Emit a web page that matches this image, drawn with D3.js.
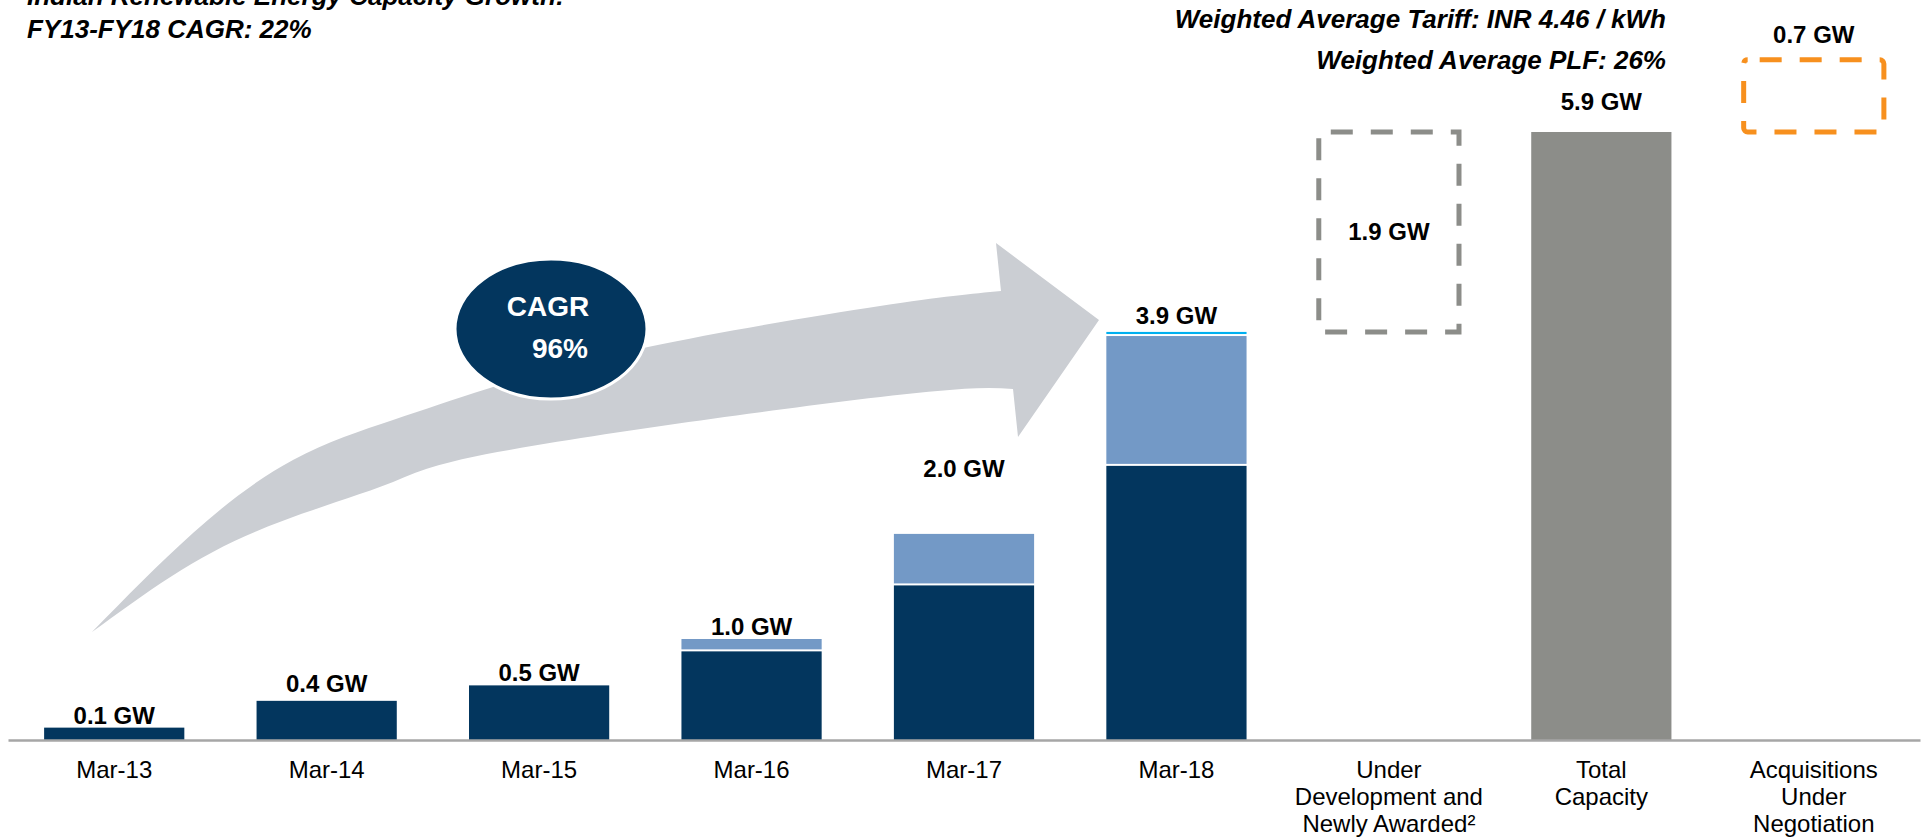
<!DOCTYPE html>
<html>
<head>
<meta charset="utf-8">
<script src="https://cdn.jsdelivr.net/npm/d3@7"></script>
<style>
  body { margin: 0; background: #fff; }
  svg { display: block; font-family: "Liberation Sans", Arial, sans-serif; }
</style>
</head>
<body>
<svg id="chart"></svg>
<script>
// capacity growth chart: stacked history + waterfall pipeline

const width = 1922, height = 840;

const categories = ["Mar-13", "Mar-14", "Mar-15", "Mar-16", "Mar-17", "Mar-18",
  "Under Development and Newly Awarded²", "Total Capacity", "Acquisitions Under Negotiation"];
const categoryLines = [["Mar-13"], ["Mar-14"], ["Mar-15"], ["Mar-16"], ["Mar-17"], ["Mar-18"],
  ["Under", "Development and", "Newly Awarded²"], ["Total", "Capacity"], ["Acquisitions", "Under", "Negotiation"]];

const years = ["Mar-13", "Mar-14", "Mar-15", "Mar-16", "Mar-17", "Mar-18"];
const darkSeries  = [0.12, 0.38, 0.53, 0.86, 1.50, 2.66];
const lightSeries = [0,    0,    0,    0.12, 0.50, 1.26];
const cyanSeries  = [0,    0,    0,    0,    0,    0.04];
const yearLabels  = ["0.1 GW", "0.4 GW", "0.5 GW", "1.0 GW", "2.0 GW", "3.9 GW"];

const underDevelopment = 1.94;
const totalCapacity = 5.9;
const acquisitions = 0.7;
const pipelineLabels = ["1.9 GW", "5.9 GW", "0.7 GW"];

const titleLines = ["Indian Renewable Energy Capacity Growth:", "FY13-FY18 CAGR: 22%"];
const noteLines = ["Weighted Average Tariff: INR 4.46 / kWh", "Weighted Average PLF: 26%"];
const cagrLines = ["CAGR", "96%"];

const colors = { dark: "#03365e", light: "#7399c6", cyan: "#00b0f0" };

const svg = d3.select("#chart").attr("width", width).attr("height", height);

const x = d3.scaleBand()
  .domain(categories)
  .range([8, 1920])
  .paddingInner(0.34)
  .paddingOuter(0.17);

const y = d3.scaleLinear()
  .domain([0, totalCapacity])
  .range([740, 132]);

// growth arrow (decoration)
const upper = [[92, 632], [193, 533], [293, 460], [393, 420], [490, 388], [648, 347], [880, 306], [1001, 291]];
const lower = [[92, 632], [193, 563], [293, 517], [393, 482], [520, 448], [880, 397], [1013, 389]];
const head = [[996, 243], [1099, 320], [1018, 437]];
const curve = d3.line().curve(d3.curveNatural);
// lower edge drawn tail->head, then reversed by sampling the path
const lowerPath = document.createElementNS("http://www.w3.org/2000/svg", "path");
lowerPath.setAttribute("d", curve(lower));
svg.node().appendChild(lowerPath);
const len = lowerPath.getTotalLength();
const lowerBack = d3.range(0, 81).map(k => {
  const p = lowerPath.getPointAtLength(len * (1 - k / 80));
  return [p.x, p.y];
});
lowerPath.remove();
const arrowPath = curve(upper)
  + head.map(p => "L" + p).join("")
  + lowerBack.map(p => "L" + p).join("") + "Z";
svg.append("path").attr("d", arrowPath).attr("fill", "#cbced3");

// stacked history bars
const table = years.map((d, i) => ({ year: d, dark: darkSeries[i], light: lightSeries[i], cyan: cyanSeries[i] }));
const stacked = d3.stack().keys(["dark", "light", "cyan"])(table);

stacked.forEach((layer, li) => {
  svg.append("g").selectAll("rect")
    .data(layer.filter(d => d[1] - d[0] > 0))
    .join("rect")
    .attr("x", d => x(d.data.year))
    .attr("width", x.bandwidth())
    .attr("y", d => y(d[1]))
    .attr("height", d => y(d[0]) - y(d[1]) - (li > 0 ? 2 : 0))
    .attr("fill", colors[layer.key]);
});

const yearTotals = table.map(d => d.dark + d.light + d.cyan);
const labelLift = [4, 9, 4, 4, 57, 8];

svg.append("g").selectAll("text")
  .data(years)
  .join("text")
  .attr("x", d => x(d) + x.bandwidth() / 2)
  .attr("y", (d, i) => y(yearTotals[i]) - labelLift[i])
  .attr("text-anchor", "middle")
  .attr("font-size", 24)
  .attr("font-weight", "bold")
  .text((d, i) => yearLabels[i]);

// pipeline: under development (dashed), total, acquisitions (dashed)
const base = yearTotals[5];
const udCat = categories[6], totCat = categories[7], acqCat = categories[8];

svg.append("rect")
  .attr("x", x(udCat))
  .attr("width", x.bandwidth())
  .attr("y", y(base + underDevelopment))
  .attr("height", y(base) - y(base + underDevelopment))
  .attr("fill", "none")
  .attr("stroke", "#8c8d89")
  .attr("stroke-width", 5)
  .attr("stroke-dasharray", "22,18")
  .attr("stroke-dashoffset", -12);

svg.append("text")
  .attr("x", x(udCat) + x.bandwidth() / 2)
  .attr("y", (y(base) + y(base + underDevelopment)) / 2 + 8)
  .attr("text-anchor", "middle")
  .attr("font-size", 24)
  .attr("font-weight", "bold")
  .text(pipelineLabels[0]);

svg.append("rect")
  .attr("x", x(totCat))
  .attr("width", x.bandwidth())
  .attr("y", y(totalCapacity))
  .attr("height", y(0) - y(totalCapacity))
  .attr("fill", "#8c8d89");

svg.append("text")
  .attr("x", x(totCat) + x.bandwidth() / 2)
  .attr("y", y(totalCapacity) - 22)
  .attr("text-anchor", "middle")
  .attr("font-size", 24)
  .attr("font-weight", "bold")
  .text(pipelineLabels[1]);

svg.append("rect")
  .attr("x", x(acqCat))
  .attr("width", x.bandwidth())
  .attr("y", y(totalCapacity + acquisitions))
  .attr("height", y(totalCapacity) - y(totalCapacity + acquisitions))
  .attr("rx", 4)
  .attr("fill", "none")
  .attr("stroke", "#f7901e")
  .attr("stroke-width", 5)
  .attr("stroke-dasharray", "22,18")
  .attr("stroke-dashoffset", -12);

svg.append("text")
  .attr("x", x(acqCat) + x.bandwidth() / 2)
  .attr("y", y(totalCapacity + acquisitions) - 17)
  .attr("text-anchor", "middle")
  .attr("font-size", 24)
  .attr("font-weight", "bold")
  .text(pipelineLabels[2]);

// x axis
const axisG = svg.append("g")
  .attr("transform", `translate(0,${y(0)})`)
  .call(d3.axisBottom(x).tickSize(0).tickSizeOuter(0));
axisG.select(".domain").attr("stroke", "#a6a6a6").attr("stroke-width", 2.5);
axisG.selectAll(".tick text").each(function (d, i) {
  const t = d3.select(this).text(null)
    .attr("y", 0).attr("dy", null)
    .attr("font-size", 24).attr("fill", "#000")
    .attr("font-family", "'Liberation Sans', Arial, sans-serif");
  categoryLines[i].forEach((line, k) => {
    t.append("tspan").attr("x", 0).attr("y", 38 + k * 27).text(line);
  });
});

// CAGR bubble
svg.append("ellipse")
  .attr("cx", 551).attr("cy", 329).attr("rx", 96).attr("ry", 70)
  .attr("fill", colors.dark).attr("stroke", "#fff").attr("stroke-width", 3);
svg.append("text").attr("x", 548).attr("y", 316)
  .attr("text-anchor", "middle").attr("fill", "#fff")
  .attr("font-size", 28).attr("font-weight", "bold").text(cagrLines[0]);
svg.append("text").attr("x", 560).attr("y", 358)
  .attr("text-anchor", "middle").attr("fill", "#fff")
  .attr("font-size", 28).attr("font-weight", "bold").text(cagrLines[1]);

// titles (first line sits partly above the top edge, as in the source)
svg.append("g").selectAll("text")
  .data(titleLines)
  .join("text")
  .attr("x", 27)
  .attr("y", (d, i) => 5 + i * 33)
  .attr("font-size", 26)
  .attr("font-weight", "bold")
  .attr("font-style", "italic")
  .text(d => d);

svg.append("g").selectAll("text")
  .data(noteLines)
  .join("text")
  .attr("x", 1666)
  .attr("y", (d, i) => 28 + i * 41)
  .attr("text-anchor", "end")
  .attr("font-size", 26)
  .attr("font-weight", "bold")
  .attr("font-style", "italic")
  .text(d => d);
</script>
</body>
</html>
